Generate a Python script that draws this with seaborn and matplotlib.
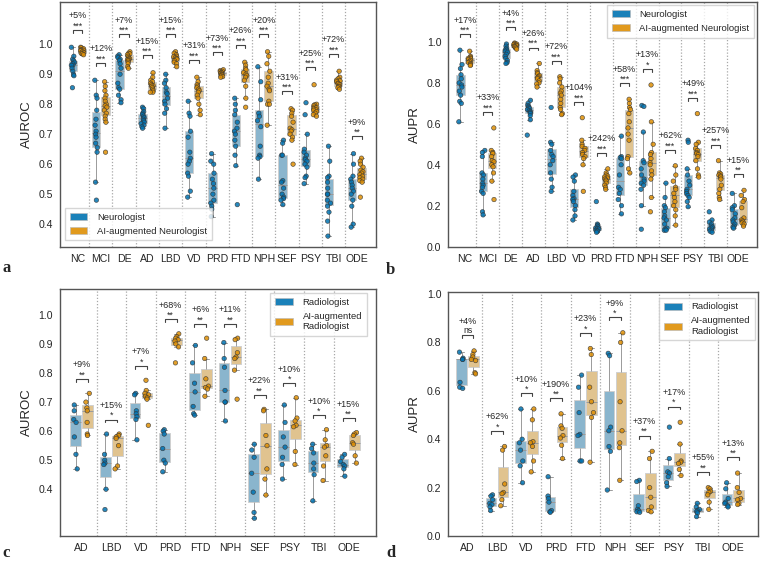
import numpy as np
import pandas as pd
import seaborn as sns
import matplotlib.pyplot as plt
from matplotlib.colors import to_rgba
from matplotlib.patches import Patch

np.random.seed(7)

# ---------------- panel a: AUROC, neurologists ----------------
a_cats = ['NC', 'MCI', 'DE', 'AD', 'LBD', 'VD', 'PRD', 'FTD', 'NPH', 'SEF', 'PSY', 'TBI', 'ODE']
a_base = [
    [0.99, 0.96, 0.95, 0.945, 0.94, 0.935, 0.93, 0.93, 0.92, 0.91, 0.90, 0.895, 0.855],
    [0.88, 0.83, 0.82, 0.78, 0.75, 0.73, 0.71, 0.70, 0.69, 0.67, 0.655, 0.64, 0.54, 0.48],
    [0.965, 0.96, 0.955, 0.95, 0.945, 0.935, 0.92, 0.90, 0.87, 0.855, 0.85, 0.83, 0.815, 0.805],
    [0.79, 0.785, 0.775, 0.77, 0.765, 0.76, 0.755, 0.75, 0.745, 0.74, 0.735, 0.73, 0.725, 0.72],
    [0.90, 0.88, 0.87, 0.855, 0.84, 0.835, 0.82, 0.81, 0.80, 0.785, 0.77, 0.72],
    [0.81, 0.77, 0.76, 0.71, 0.69, 0.64, 0.62, 0.61, 0.60, 0.57, 0.56, 0.51, 0.49],
    [0.635, 0.61, 0.60, 0.57, 0.55, 0.535, 0.52, 0.50, 0.48, 0.47, 0.46, 0.45, 0.425],
    [0.82, 0.80, 0.78, 0.765, 0.74, 0.72, 0.71, 0.70, 0.68, 0.66, 0.63, 0.595, 0.465],
    [0.925, 0.875, 0.815, 0.77, 0.76, 0.745, 0.725, 0.66, 0.63, 0.625, 0.62, 0.55],
    [0.68, 0.67, 0.63, 0.63, 0.545, 0.54, 0.52, 0.50, 0.49, 0.485, 0.48, 0.465],
    [0.805, 0.765, 0.70, 0.65, 0.64, 0.63, 0.62, 0.615, 0.61, 0.60, 0.59, 0.56, 0.555, 0.535],
    [0.66, 0.61, 0.56, 0.555, 0.54, 0.52, 0.50, 0.50, 0.48, 0.47, 0.46, 0.44, 0.41, 0.36],
    [0.635, 0.60, 0.56, 0.55, 0.54, 0.53, 0.52, 0.51, 0.50, 0.48, 0.46, 0.40, 0.39],
]
a_ai = [
    [0.99, 0.988, 0.985, 0.982, 0.98, 0.98, 0.978, 0.975, 0.972, 0.97, 0.968, 0.965],
    [0.875, 0.86, 0.845, 0.83, 0.82, 0.81, 0.80, 0.795, 0.79, 0.78, 0.77, 0.76, 0.75, 0.74, 0.64],
    [0.975, 0.97, 0.968, 0.965, 0.96, 0.955, 0.952, 0.95, 0.948, 0.945, 0.94, 0.935, 0.925, 0.92],
    [0.905, 0.89, 0.88, 0.875, 0.87, 0.865, 0.862, 0.86, 0.855, 0.85, 0.845, 0.84, 0.84],
    [0.975, 0.97, 0.965, 0.96, 0.958, 0.955, 0.952, 0.95, 0.945, 0.94, 0.935, 0.925],
    [0.89, 0.875, 0.865, 0.86, 0.855, 0.85, 0.845, 0.84, 0.83, 0.82, 0.80, 0.78, 0.765],
    [0.915, 0.912, 0.91, 0.908, 0.905, 0.905, 0.902, 0.90, 0.898, 0.895, 0.892, 0.89],
    [0.94, 0.93, 0.92, 0.915, 0.905, 0.90, 0.895, 0.89, 0.88, 0.86, 0.82, 0.79],
    [0.975, 0.96, 0.935, 0.91, 0.89, 0.87, 0.86, 0.85, 0.845, 0.81, 0.80, 0.80, 0.73],
    [0.785, 0.78, 0.77, 0.76, 0.74, 0.72, 0.715, 0.71, 0.70, 0.69, 0.68, 0.60],
    [0.865, 0.80, 0.798, 0.795, 0.79, 0.788, 0.785, 0.782, 0.78, 0.775, 0.77, 0.765, 0.76],
    [0.91, 0.89, 0.885, 0.88, 0.878, 0.875, 0.87, 0.868, 0.865, 0.86, 0.858, 0.855, 0.85],
    [0.62, 0.61, 0.60, 0.59, 0.58, 0.575, 0.57, 0.565, 0.56, 0.555, 0.55, 0.545, 0.54, 0.49],
]
a_pct = ['+5%', '+12%', '+7%', '+15%', '+15%', '+31%', '+73%', '+26%', '+20%', '+31%', '+25%', '+72%', '+9%']
a_sig = ['***'] * 12 + ['**']

# ---------------- panel b: AUPR, neurologists ----------------
b_cats = a_cats
b_base = [
    [0.96, 0.89, 0.87, 0.84, 0.82, 0.80, 0.79, 0.78, 0.76, 0.74, 0.71, 0.70, 0.61],
    [0.47, 0.46, 0.44, 0.36, 0.35, 0.33, 0.31, 0.30, 0.29, 0.27, 0.26, 0.17, 0.155],
    [0.99, 0.98, 0.97, 0.965, 0.96, 0.955, 0.95, 0.94, 0.93, 0.92, 0.91, 0.90, 0.895],
    [0.715, 0.70, 0.69, 0.685, 0.68, 0.675, 0.67, 0.665, 0.66, 0.655, 0.65, 0.64, 0.62, 0.545],
    [0.68, 0.51, 0.50, 0.47, 0.45, 0.44, 0.42, 0.40, 0.36, 0.33, 0.29, 0.27],
    [0.35, 0.34, 0.32, 0.27, 0.25, 0.235, 0.23, 0.22, 0.20, 0.18, 0.15, 0.13],
    [0.22, 0.11, 0.105, 0.10, 0.095, 0.09, 0.088, 0.085, 0.08, 0.078, 0.075, 0.07],
    [0.54, 0.44, 0.435, 0.43, 0.40, 0.35, 0.29, 0.28, 0.26, 0.23, 0.20, 0.16],
    [0.69, 0.685, 0.56, 0.42, 0.41, 0.38, 0.35, 0.33, 0.32, 0.31, 0.30, 0.28, 0.20, 0.085],
    [0.31, 0.24, 0.20, 0.19, 0.17, 0.15, 0.14, 0.13, 0.11, 0.09, 0.085, 0.08, 0.08],
    [0.52, 0.51, 0.38, 0.35, 0.32, 0.30, 0.28, 0.27, 0.26, 0.25, 0.24, 0.22, 0.195],
    [0.17, 0.13, 0.12, 0.11, 0.10, 0.095, 0.09, 0.085, 0.08, 0.075, 0.07],
    [0.26, 0.20, 0.19, 0.18, 0.16, 0.14, 0.13, 0.12, 0.11, 0.10, 0.095, 0.09],
]
b_ai = [
    [0.955, 0.93, 0.925, 0.92, 0.918, 0.915, 0.91, 0.905, 0.90, 0.895, 0.89, 0.885],
    [0.58, 0.47, 0.46, 0.455, 0.44, 0.42, 0.415, 0.40, 0.39, 0.36, 0.32, 0.23],
    [0.995, 0.992, 0.99, 0.988, 0.985, 0.983, 0.98, 0.978, 0.975, 0.97, 0.965],
    [0.895, 0.86, 0.85, 0.845, 0.835, 0.83, 0.825, 0.82, 0.81, 0.80, 0.795, 0.78],
    [0.83, 0.82, 0.80, 0.78, 0.76, 0.75, 0.74, 0.72, 0.70, 0.68, 0.67, 0.65, 0.645],
    [0.63, 0.52, 0.50, 0.49, 0.48, 0.47, 0.46, 0.45, 0.44, 0.43, 0.40, 0.27],
    [0.38, 0.36, 0.35, 0.345, 0.34, 0.335, 0.33, 0.325, 0.32, 0.31, 0.30, 0.29, 0.28],
    [0.72, 0.70, 0.68, 0.67, 0.65, 0.61, 0.58, 0.55, 0.52, 0.44, 0.43, 0.38, 0.36],
    [0.79, 0.61, 0.50, 0.46, 0.45, 0.43, 0.41, 0.40, 0.37, 0.35, 0.33, 0.24, 0.17],
    [0.395, 0.35, 0.32, 0.29, 0.28, 0.26, 0.24, 0.22, 0.20, 0.18, 0.15, 0.105],
    [0.65, 0.51, 0.50, 0.48, 0.47, 0.46, 0.455, 0.45, 0.44, 0.42, 0.38, 0.35, 0.34],
    [0.42, 0.36, 0.355, 0.35, 0.345, 0.34, 0.33, 0.30, 0.28, 0.26, 0.24, 0.23],
    [0.275, 0.25, 0.23, 0.22, 0.19, 0.14, 0.13, 0.125, 0.12, 0.115, 0.11, 0.10],
]
b_pct = ['+17%', '+33%', '+4%', '+26%', '+72%', '+104%', '+242%', '+58%', '+13%', '+62%', '+49%', '+257%', '+15%']
b_sig = ['***', '***', '***', '***', '***', '***', '***', '***', '*', '***', '***', '***', '**']

# ---------------- panel c: AUROC, radiologists ----------------
c_cats = ['AD', 'LBD', 'VD', 'PRD', 'FTD', 'NPH', 'SEF', 'PSY', 'TBI', 'ODE']
c_base = [
    [0.69, 0.67, 0.64, 0.63, 0.58, 0.52, 0.47],
    [0.59, 0.52, 0.50, 0.49, 0.485, 0.40, 0.33],
    [0.73, 0.725, 0.67, 0.66, 0.65, 0.64, 0.57],
    [0.605, 0.60, 0.59, 0.54, 0.50, 0.49, 0.46],
    [0.895, 0.835, 0.765, 0.735, 0.685, 0.66, 0.655],
    [0.905, 0.85, 0.82, 0.74, 0.70, 0.70, 0.635],
    [0.555, 0.535, 0.51, 0.455, 0.39, 0.32, 0.30],
    [0.69, 0.63, 0.58, 0.545, 0.51, 0.485, 0.435],
    [0.555, 0.54, 0.525, 0.49, 0.47, 0.45, 0.36],
    [0.52, 0.51, 0.495, 0.485, 0.48, 0.47, 0.445],
]
c_ai = [
    [0.73, 0.70, 0.68, 0.67, 0.63, 0.59, 0.585],
    [0.59, 0.585, 0.58, 0.575, 0.55, 0.48, 0.47],
    [0.775, 0.74, 0.73, 0.725, 0.72, 0.715, 0.71, 0.62],
    [0.935, 0.925, 0.92, 0.915, 0.91, 0.90, 0.89, 0.835],
    [0.92, 0.85, 0.78, 0.755, 0.75, 0.745, 0.72],
    [0.92, 0.915, 0.87, 0.855, 0.85, 0.81, 0.71],
    [0.675, 0.67, 0.585, 0.55, 0.47, 0.435, 0.38],
    [0.715, 0.645, 0.635, 0.62, 0.615, 0.53, 0.485],
    [0.605, 0.57, 0.55, 0.545, 0.515, 0.48, 0.43],
    [0.595, 0.59, 0.585, 0.56, 0.555, 0.515, 0.49],
]
c_pct = ['+9%', '+15%', '+7%', '+68%', '+6%', '+11%', '+22%', '+10%', '+10%', '+15%']
c_sig = ['**', '*', '*', '**', '**', '**', '**', '*', '*', '**']

# ---------------- panel d: AUPR, radiologists ----------------
d_cats = c_cats
d_base = [
    [0.76, 0.735, 0.73, 0.73, 0.635, 0.615, 0.61],
    [0.17, 0.165, 0.15, 0.135, 0.13, 0.12, 0.105],
    [0.525, 0.40, 0.385, 0.355, 0.31, 0.29, 0.22],
    [0.245, 0.165, 0.155, 0.14, 0.105, 0.10, 0.098],
    [0.665, 0.615, 0.51, 0.42, 0.415, 0.31, 0.31],
    [0.755, 0.745, 0.45, 0.435, 0.37, 0.35, 0.19],
    [0.23, 0.225, 0.125, 0.11, 0.105, 0.10, 0.098],
    [0.45, 0.32, 0.265, 0.26, 0.245, 0.22, 0.205],
    [0.135, 0.12, 0.11, 0.105, 0.10, 0.095, 0.08],
    [0.22, 0.195, 0.155, 0.14, 0.135, 0.125, 0.12],
]
d_ai = [
    [0.765, 0.75, 0.74, 0.73, 0.725, 0.675, 0.67],
    [0.37, 0.355, 0.215, 0.18, 0.175, 0.15, 0.125],
    [0.525, 0.48, 0.39, 0.385, 0.37, 0.31, 0.265],
    [0.505, 0.455, 0.445, 0.415, 0.405, 0.375, 0.32],
    [0.775, 0.75, 0.615, 0.555, 0.51, 0.49, 0.305],
    [0.84, 0.80, 0.555, 0.435, 0.385, 0.365, 0.23],
    [0.35, 0.32, 0.20, 0.16, 0.12, 0.105, 0.10],
    [0.47, 0.38, 0.31, 0.305, 0.30, 0.275, 0.25],
    [0.20, 0.195, 0.185, 0.18, 0.17, 0.14, 0.11],
    [0.26, 0.20, 0.18, 0.155, 0.15, 0.135, 0.13],
]
d_pct = ['+4%', '+62%', '+10%', '+190%', '+23%', '+9%', '+37%', '+17%', '+55%', '+13%']
d_sig = ['ns', '*', '*', '**', '*', '*', '**', '*', '**', '**']

sns.set_style('white')
plt.rcParams['font.family'] = ['Liberation Sans', 'DejaVu Sans']
pal = sns.color_palette('colorblind', 2)


def panel(ax, cats, base, ai, pct, sig, names, leg_labels, ylabel,
          ylim, yticks, xlim, off, leg_kw):
    rows = []
    for c, b, g in zip(cats, base, ai):
        rows += [(c, names[0], v) for v in b]
        rows += [(c, names[1], v) for v in g]
    df = pd.DataFrame(rows, columns=['cat', 'grp', 'val'])

    for i in range(len(cats) - 1):
        ax.axvline(i + 0.5, color='#a8a8a8', ls=(0, (1, 1.5)), lw=0.9, zorder=0)

    sns.boxplot(data=df, x='cat', y='val', hue='grp', order=cats, hue_order=names,
                palette=pal, width=0.8, gap=0.1, showfliers=False,
                linecolor='#9a9a9a', linewidth=0.7, legend=False, ax=ax)
    for p in ax.patches:
        p.set_facecolor(to_rgba(p.get_facecolor(), 0.5))
        p.set_edgecolor('#d0d0d0')
    sns.stripplot(data=df, x='cat', y='val', hue='grp', order=cats, hue_order=names,
                  palette=pal, dodge=True, jitter=0.15, size=3.2, linewidth=0.45,
                  edgecolor='#333333', alpha=0.85, legend=False, zorder=3, ax=ax)

    span = ylim[1] - ylim[0]
    for i, (b, g, p, s) in enumerate(zip(base, ai, pct, sig)):
        top = max(max(b), max(g)) + off
        h = 0.012 * span
        ax.plot([i - 0.2, i - 0.2, i + 0.2, i + 0.2], [top - h, top, top, top - h],
                color='#444444', lw=0.8)
        ax.annotate(s, (i, top), xytext=(0, 1.9 if s == 'ns' else 1),
                    textcoords='offset points', ha='center', va='baseline', fontsize=6.3)
        ax.annotate(p, (i, top), xytext=(0, 8.3), textcoords='offset points',
                    ha='center', va='baseline', fontsize=6.5)

    ax.set_xlim(*xlim)
    ax.set_ylim(*ylim)
    ax.set_yticks(yticks)
    ax.set_xlabel('')
    ax.set_ylabel(ylabel, fontsize=9.5)
    ax.tick_params(length=0, pad=5, labelsize=7.6)
    for sp in ax.spines.values():
        sp.set_color('#555555')
        sp.set_linewidth(1.0)

    handles = [Patch(facecolor=c, alpha=0.9, edgecolor='#bbbbbb', lw=0.5) for c in pal]
    ax.legend(handles, leg_labels, fontsize=6.8, handlelength=1.9, handleheight=0.75,
              handletextpad=1.0, borderpad=0.5, labelspacing=0.5, frameon=True,
              edgecolor='#cccccc', fancybox=False, borderaxespad=0, **leg_kw)


fig = plt.figure(figsize=(7.6, 5.63), dpi=100)
ax_a = fig.add_axes([0.079, 0.562, 0.416, 0.435])
ax_b = fig.add_axes([0.590, 0.562, 0.4066, 0.435])
ax_c = fig.add_axes([0.079, 0.0485, 0.416, 0.4375])
ax_d = fig.add_axes([0.590, 0.048, 0.408, 0.434])

neuro = ['Neurologist', 'AI-augmented Neurologist']
radio = ['Radiologist', 'AI-augmented Radiologist']

panel(ax_a, a_cats, a_base, a_ai, a_pct, a_sig, neuro, neuro, 'AUROC',
      (0.325, 1.142), np.arange(0.4, 1.01, 0.1), (-0.75, 12.83), 0.058,
      dict(loc='lower left', bbox_to_anchor=(0.015, 0.025)))
panel(ax_b, b_cats, b_base, b_ai, b_pct, b_sig, neuro, neuro, 'AUPR',
      (0.0, 1.197), np.arange(0.0, 1.01, 0.2), (-0.73, 12.84), 0.078,
      dict(loc='upper right', bbox_to_anchor=(0.99, 0.985)))
panel(ax_c, c_cats, c_base, c_ai, c_pct, c_sig, radio,
      ['Radiologist', 'AI-augmented\nRadiologist'], 'AUROC',
      (0.24, 1.088), np.arange(0.4, 1.01, 0.1), (-0.73, 9.93), 0.05,
      dict(loc='upper right', bbox_to_anchor=(0.97, 0.985)))
panel(ax_d, d_cats, d_base, d_ai, d_pct, d_sig, radio,
      ['Radiologist', 'AI-augmented\nRadiologist'], 'AUPR',
      (0.0, 1.01), np.arange(0.0, 1.01, 0.2), (-0.65, 9.87), 0.065,
      dict(loc='upper right', bbox_to_anchor=(0.99, 0.975)))

for lab, x, y in [('a', 0.003, 0.517), ('b', 0.508, 0.513), ('c', 0.003, 0.01), ('d', 0.508, 0.01)]:
    fig.text(x, y, lab, fontsize=12, fontweight='bold',
             family=['Liberation Serif', 'DejaVu Serif'], va='baseline')

fig.savefig('out.png', dpi=100)
